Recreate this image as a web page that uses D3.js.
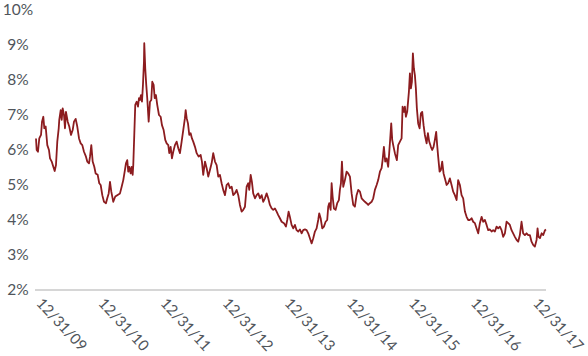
<!DOCTYPE html>
<html>
<head>
<meta charset="utf-8">
<script src="https://cdn.jsdelivr.net/npm/d3@7"></script>
<style>
  html, body { margin: 0; padding: 0; background: #fff; }
  svg { display: block; }
  text { font-family: Lato, "Open Sans", sans-serif; }
</style>
</head>
<body>
<svg id="chart" width="588" height="356"></svg>
<script>
// Decimal-year dates (2010.0 = 12/31/09)
const years = [
2010.016,2010.027,2010.048,2010.069,2010.097,2010.113,2010.134,2010.150,2010.172,2010.198,
2010.225,2010.242,2010.269,2010.295,2010.317,2010.338,2010.359,2010.382,2010.391,2010.414,
2010.430,2010.446,2010.467,2010.483,2010.499,2010.527,2010.552,2010.580,2010.607,2010.628,
2010.655,2010.681,2010.709,2010.736,2010.762,2010.789,2010.821,2010.842,2010.870,2010.886,
2010.907,2010.929,2010.955,2010.977,2011.010,2011.035,2011.058,2011.084,2011.111,2011.143,
2011.164,2011.187,2011.208,2011.229,2011.261,2011.293,2011.325,2011.369,2011.396,2011.422,
2011.449,2011.465,2011.486,2011.502,2011.519,2011.541,2011.557,2011.573,2011.583,2011.599,
2011.615,2011.638,2011.659,2011.675,2011.691,2011.707,2011.723,2011.739,2011.755,2011.760,
2011.776,2011.792,2011.808,2011.831,2011.852,2011.873,2011.889,2011.911,2011.928,2011.948,
2011.969,2011.997,2012.024,2012.045,2012.072,2012.098,2012.121,2012.147,2012.163,2012.185,
2012.206,2012.227,2012.254,2012.282,2012.308,2012.335,2012.362,2012.388,2012.415,2012.427,
2012.443,2012.464,2012.485,2012.507,2012.528,2012.549,2012.577,2012.604,2012.636,2012.668,
2012.689,2012.710,2012.738,2012.765,2012.791,2012.818,2012.845,2012.871,2012.899,2012.926,
2012.952,2012.979,2013.006,2013.032,2013.060,2013.087,2013.113,2013.140,2013.168,2013.193,
2013.220,2013.248,2013.274,2013.301,2013.328,2013.354,2013.382,2013.409,2013.435,2013.451,
2013.474,2013.494,2013.515,2013.543,2013.570,2013.596,2013.623,2013.651,2013.676,2013.704,
2013.731,2013.757,2013.784,2013.812,2013.837,2013.865,2013.892,2013.918,2013.945,2013.973,
2014.010,2014.042,2014.063,2014.085,2014.106,2014.133,2014.160,2014.187,2014.214,2014.240,
2014.267,2014.295,2014.320,2014.348,2014.375,2014.401,2014.428,2014.456,2014.482,2014.509,
2014.536,2014.562,2014.578,2014.601,2014.627,2014.654,2014.681,2014.707,2014.723,2014.739,
2014.762,2014.778,2014.794,2014.815,2014.842,2014.868,2014.895,2014.911,2014.928,2014.944,
2014.965,2014.992,2015.019,2015.045,2015.073,2015.100,2015.126,2015.153,2015.180,2015.206,
2015.234,2015.261,2015.287,2015.314,2015.341,2015.367,2015.394,2015.422,2015.448,2015.475,
2015.503,2015.528,2015.556,2015.583,2015.599,2015.620,2015.641,2015.664,2015.689,2015.705,
2015.722,2015.738,2015.754,2015.770,2015.797,2015.829,2015.850,2015.878,2015.905,2015.921,
2015.942,2015.958,2015.974,2015.995,2016.023,2016.039,2016.055,2016.071,2016.087,2016.103,
2016.119,2016.135,2016.151,2016.172,2016.195,2016.216,2016.237,2016.259,2016.280,2016.308,
2016.329,2016.350,2016.377,2016.398,2016.420,2016.441,2016.462,2016.478,2016.494,2016.517,
2016.538,2016.559,2016.581,2016.602,2016.630,2016.655,2016.683,2016.710,2016.736,2016.763,
2016.791,2016.816,2016.844,2016.871,2016.897,2016.925,2016.952,2016.978,2017.005,2017.032,
2017.058,2017.086,2017.113,2017.139,2017.166,2017.194,2017.219,2017.247,2017.274,2017.300,
2017.327,2017.355,2017.380,2017.408,2017.435,2017.461,2017.488,2017.515,2017.541,2017.569,
2017.596,2017.622,2017.649,2017.676,2017.702,2017.730,2017.757,2017.783,2017.810,2017.837,
2017.863,2017.891,2017.918,2017.944,2017.971,2017.998,2018.024,2018.052,2018.079,2018.095,
2018.111,2018.134,2018.161,2018.187,2018.215,2018.231
];

// Yield, percent
const yieldPct = [
6.33,6.00,5.95,6.33,6.43,6.81,6.95,6.62,6.67,6.14,
6.00,5.76,5.67,5.52,5.40,5.57,6.24,6.62,6.86,7.14,
6.86,7.19,7.00,6.62,7.09,6.81,6.67,6.43,6.57,6.81,
6.89,6.67,6.33,6.19,6.14,5.95,5.81,5.67,5.62,5.81,
6.14,5.67,5.52,5.33,5.29,5.05,5.00,4.71,4.52,4.48,
4.62,4.76,5.09,4.81,4.52,4.67,4.71,4.76,4.95,5.14,
5.43,5.62,5.71,5.38,5.52,5.33,5.52,5.29,5.57,6.43,
7.29,7.38,7.24,7.48,7.43,7.57,7.38,7.86,8.52,9.05,
8.33,7.86,7.48,6.81,7.38,7.43,7.95,7.86,7.48,7.57,
7.29,7.00,6.95,6.71,6.57,6.29,6.19,6.14,5.91,6.09,
5.76,5.95,6.14,6.24,6.05,5.91,6.24,6.57,6.91,7.14,
6.91,6.76,6.43,6.48,6.33,6.24,6.09,5.91,5.81,5.86,
5.67,5.29,5.67,5.48,5.24,5.43,5.62,5.91,5.67,5.57,
5.24,5.29,5.05,4.86,4.71,5.00,5.05,4.91,4.95,4.71,
4.76,4.86,4.71,4.43,4.24,4.29,4.38,4.95,5.05,4.86,
5.29,5.09,4.76,4.62,4.71,4.76,4.62,4.71,4.52,4.62,
4.76,4.62,4.43,4.33,4.29,4.33,4.24,4.14,4.05,3.95,
3.91,3.81,4.00,4.24,4.09,3.86,3.76,3.86,3.71,3.67,
3.73,3.62,3.71,3.73,3.71,3.62,3.48,3.33,3.48,3.67,
3.76,4.00,4.19,4.05,3.76,3.81,3.95,4.00,4.38,4.48,
4.29,5.05,4.67,4.33,4.29,4.48,4.57,4.86,5.05,5.67,
4.95,5.14,5.38,5.33,5.24,4.76,4.43,4.38,4.71,4.86,
4.81,4.62,4.57,4.52,4.48,4.43,4.48,4.52,4.62,4.86,
5.00,5.14,5.38,5.48,5.71,6.09,5.67,5.76,5.52,5.91,
6.33,6.76,6.29,6.14,5.91,5.71,6.14,6.24,6.33,7.24,
7.09,7.24,6.95,7.09,7.67,8.19,7.76,7.95,8.76,8.33,
8.14,7.76,7.19,6.76,6.62,7.05,7.09,6.71,6.43,6.19,
6.48,6.24,6.09,6.00,6.09,6.29,6.52,6.14,5.81,5.38,
5.43,5.67,5.33,5.19,5.00,5.05,5.19,5.00,4.81,4.71,
4.57,5.14,5.00,4.71,4.62,4.24,4.09,4.00,4.00,4.05,
3.95,3.91,3.76,3.62,3.91,4.09,3.95,4.00,3.86,3.71,
3.73,3.67,3.71,3.67,3.81,3.76,3.81,3.71,3.52,3.62,
3.95,3.91,3.86,3.71,3.62,3.52,3.43,3.38,3.57,3.95,
3.62,3.57,3.62,3.57,3.57,3.38,3.29,3.24,3.43,3.76,
3.52,3.48,3.62,3.57,3.71,3.73
];

const tickYears = [2010, 2011, 2012, 2013, 2014, 2015, 2016, 2017, 2018];
const tickLabels = ["12/31/09","12/31/10","12/31/11","12/31/12","12/31/13","12/31/14","12/31/15","12/31/16","12/31/17"];
const yTicks = [2, 3, 4, 5, 6, 7, 8, 9, 10];

const data = years.map((t, i) => ({ t, v: yieldPct[i] }));

const svg = d3.select("#chart");
const x = d3.scaleLinear().domain([2010, years[years.length - 1]]).range([35, 546]);
const y = d3.scaleLinear().domain([2, 10]).range([290, 10]);

const labelColor = "#50555b";

// Baseline
svg.append("line")
  .attr("x1", x.range()[0]).attr("x2", x.range()[1])
  .attr("y1", y(2)).attr("y2", y(2))
  .attr("stroke", "#d6d6d6").attr("stroke-width", 2);

// Y axis
const yAxis = svg.append("g")
  .attr("transform", "translate(18,0)")
  .call(d3.axisLeft(y).tickValues(yTicks).tickFormat(d => d + "%").tickSize(0).tickPadding(0));
yAxis.select(".domain").remove();
yAxis.selectAll("text")
  .attr("x", 0)
  .attr("text-anchor", "middle")
  .attr("fill", labelColor)
  .style("font-size", "15.5px")
  .style("font-family", "Lato, 'Open Sans', sans-serif");

// X axis
const xAxis = svg.append("g")
  .attr("transform", `translate(0,${y(2)})`)
  .call(d3.axisBottom(x).tickValues(tickYears).tickFormat((d, i) => tickLabels[i]).tickSize(0));
xAxis.select(".domain").remove();
xAxis.selectAll("text")
  .attr("y", 0).attr("dy", 0)
  .attr("text-anchor", "start")
  .attr("transform", "translate(0,14) rotate(47)")
  .attr("fill", labelColor)
  .style("font-size", "15px")
  .style("font-family", "Lato, 'Open Sans', sans-serif");

// Line
svg.append("path")
  .datum(data)
  .attr("fill", "none")
  .attr("stroke", "#8c1c1f")
  .attr("stroke-width", 1.8)
  .attr("stroke-linejoin", "round")
  .attr("d", d3.line().x(d => x(d.t)).y(d => y(d.v)));
</script>
</body>
</html>
